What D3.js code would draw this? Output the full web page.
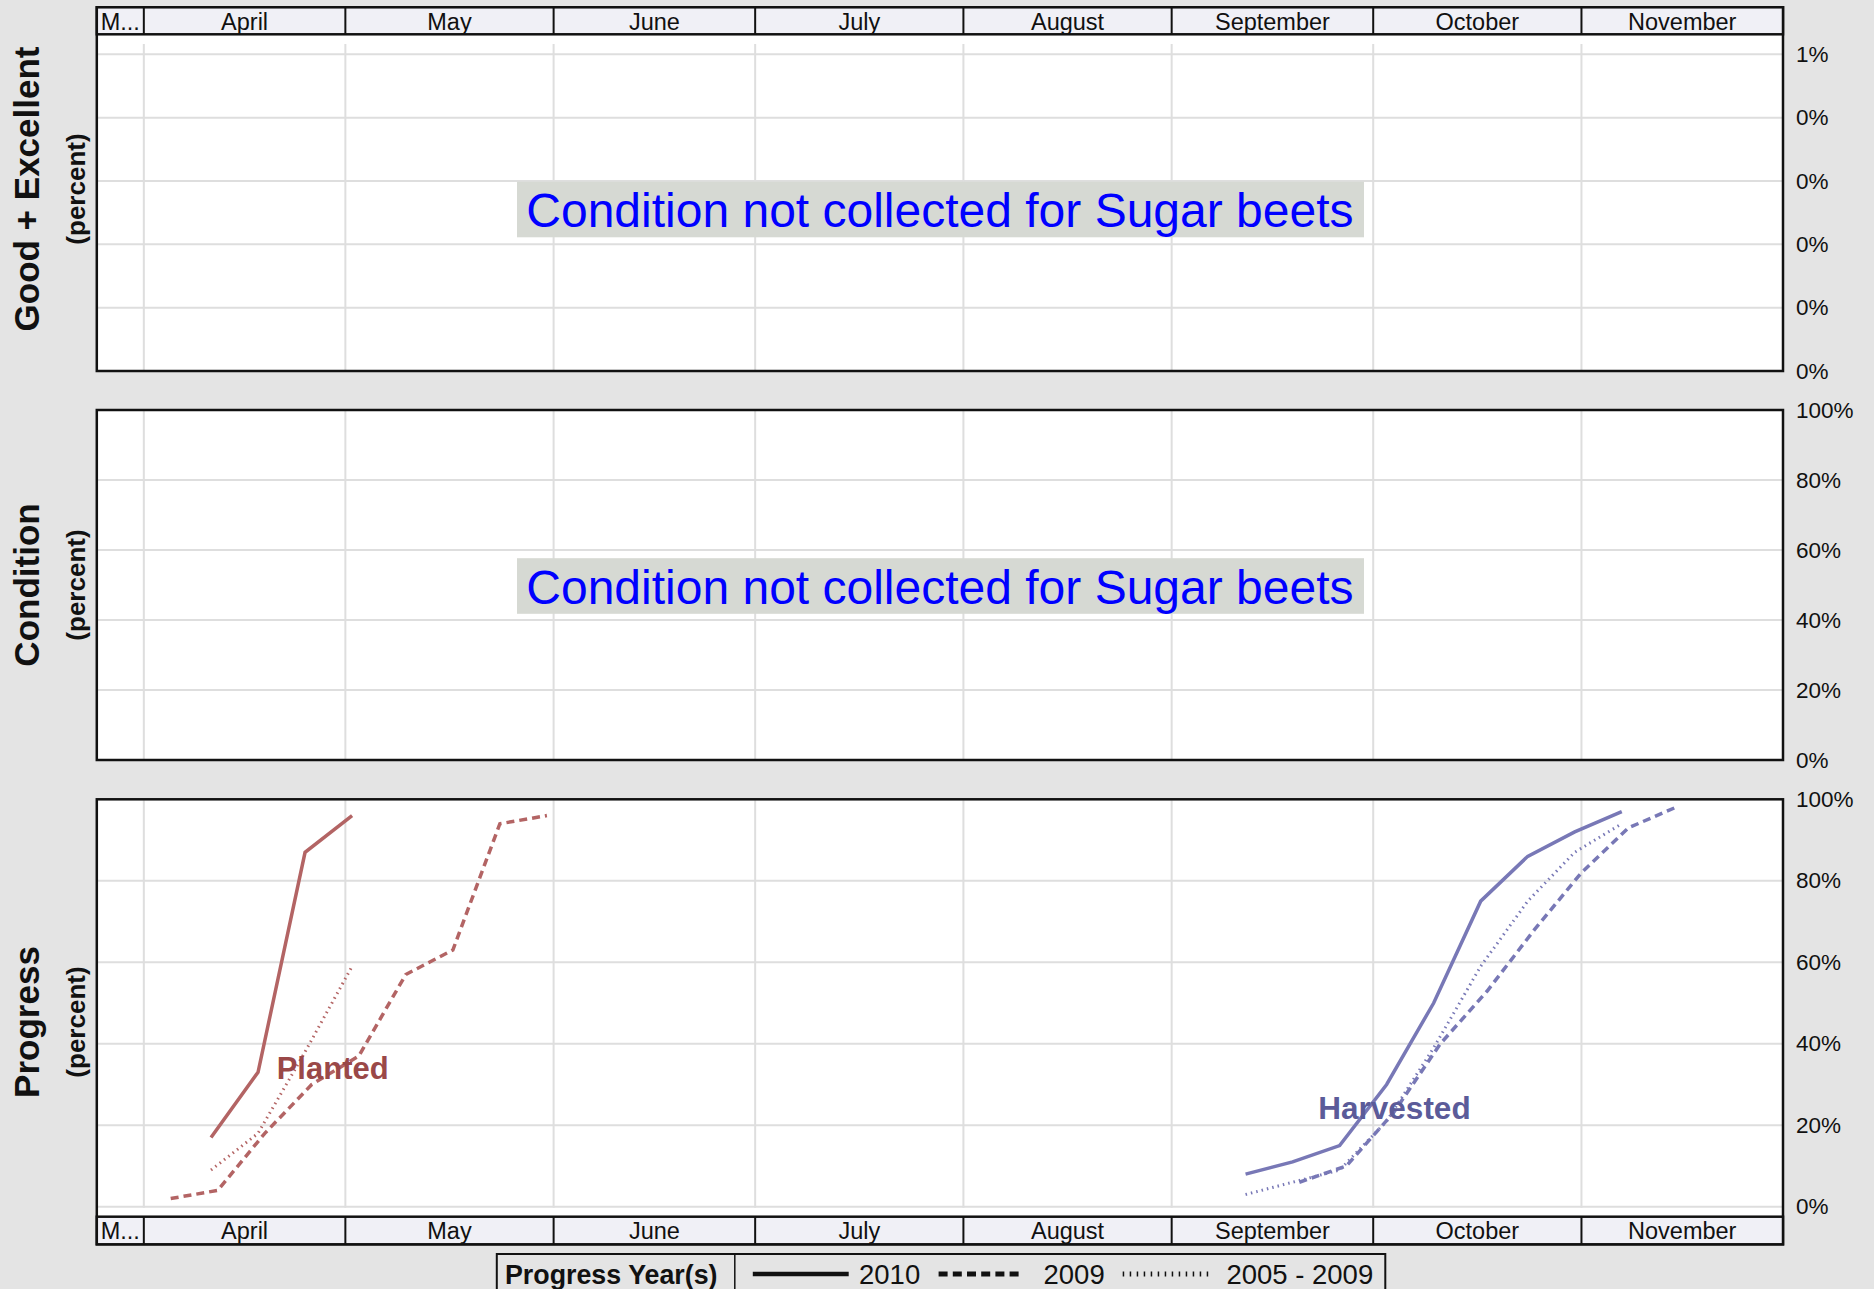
<!DOCTYPE html>
<html><head><meta charset="utf-8">
<script src="https://cdn.jsdelivr.net/npm/d3@7"></script>
<style>html,body{margin:0;padding:0;background:#e4e4e4;} svg{display:block;}</style>
</head><body>
<svg id="chart" width="1874" height="1289"></svg>
<script>
// ---------------- DATA ----------------
const monthLabels = ["M...", "April", "May", "June", "July", "August", "September", "October", "November"];
const monthStarts = ["2010-03-25", "2010-04-01", "2010-05-01", "2010-06-01", "2010-07-01", "2010-08-01", "2010-09-01", "2010-10-01", "2010-11-01"];
const axisEnd = "2010-12-01";

const goodExcTicks = [0, 0.2, 0.4, 0.6, 0.8, 1];
const goodExcTickLabels = ["0%", "0%", "0%", "0%", "0%", "1%"];
const pctTicks = [0, 20, 40, 60, 80, 100];
const pctTickLabels = ["0%", "20%", "40%", "60%", "80%", "100%"];

// Planted (weeks ending, plotted on the 2010 calendar)
const planted2010Dates = ["2010-04-11", "2010-04-18", "2010-04-25", "2010-05-02"];
const planted2010 = [17, 33, 87, 96];
const planted2009Dates = ["2010-04-05", "2010-04-12", "2010-04-19", "2010-04-26", "2010-05-03", "2010-05-10", "2010-05-17", "2010-05-24", "2010-05-31"];
const planted2009 = [2, 4, 18, 30, 37, 57, 63, 94, 96];
const plantedAvgDates = ["2010-04-11", "2010-04-18", "2010-04-25", "2010-05-02"];
const plantedAvg = [9, 18, 38, 59];

// Harvested
const harvest2010Dates = ["2010-09-12", "2010-09-19", "2010-09-26", "2010-10-03", "2010-10-10", "2010-10-17", "2010-10-24", "2010-10-31", "2010-11-07"];
const harvest2010 = [8, 11, 15, 30, 50, 75, 86, 92, 97];
const harvest2009Dates = ["2010-09-20", "2010-09-27", "2010-10-04", "2010-10-11", "2010-10-18", "2010-10-25", "2010-11-01", "2010-11-08", "2010-11-15"];
const harvest2009 = [6, 10, 23, 40, 53, 68, 82, 93, 98];
const harvestAvgDates = ["2010-09-12", "2010-09-19", "2010-09-26", "2010-10-03", "2010-10-10", "2010-10-17", "2010-10-24", "2010-10-31", "2010-11-07"];
const harvestAvg = [3, 6, 9, 21, 39, 59, 75, 87, 94];

const legendTitle = "Progress Year(s)";
const legendLabels = ["2010", "2009", "2005 - 2009"];
const noDataText = "Condition not collected for Sugar beets";

// ---------------- LAYOUT ----------------
const parse = d3.timeParse("%Y-%m-%d");
const X0 = 96.8, X1 = 1783;
const x = d3.scaleTime().domain([parse(monthStarts[0]), parse(axisEnd)]).range([X0, X1]);

const svg = d3.select("#chart");
const FONT = "'Liberation Sans', Arial, sans-serif";
const GRID = "#dedede";
const HEADER_FILL = "#f0f0f6";

svg.append("rect").attr("width", 1874).attr("height", 1289).attr("fill", "#e4e4e4");

const panels = [
  { title: "Good + Excellent", top: 34.3, bottom: 371, yRange: [371, 54.3], domain: [0, 1], ticks: goodExcTicks, tickLabels: goodExcTickLabels,
    vTop: 44, vBottom: 371, headerTop: 7.3, labelCenter: 189, noData: true, boxCenter: 209.5 },
  { title: "Condition", top: 410, bottom: 760, yRange: [760, 410], domain: [0, 100], ticks: pctTicks, tickLabels: pctTickLabels,
    vTop: 410, vBottom: 760, labelCenter: 585, noData: true, boxCenter: 586 },
  { title: "Progress", top: 799.3, bottom: 1216.7, yRange: [1206.7, 799.3], domain: [0, 100], ticks: pctTicks, tickLabels: pctTickLabels,
    vTop: 799.3, vBottom: 1207.7, footerBottom: 1244.3, labelCenter: 1022, noData: false }
];

const boundaries = monthStarts.slice(1).map(parse);

function drawMonthStrip(g, y0, y1) {
  g.append("rect").attr("x", X0).attr("y", y0).attr("width", X1 - X0).attr("height", y1 - y0)
    .attr("fill", HEADER_FILL).attr("stroke", "#111").attr("stroke-width", 2.5);
  g.selectAll("line.sep").data(boundaries).enter().append("line")
    .attr("x1", d => x(d)).attr("x2", d => x(d)).attr("y1", y0).attr("y2", y1)
    .attr("stroke", "#111").attr("stroke-width", 2);
  const starts = monthStarts.map(parse);
  const ends = starts.slice(1).concat([parse(axisEnd)]);
  g.selectAll("text.m").data(monthLabels).enter().append("text")
    .attr("x", (d, i) => (x(starts[i]) + x(ends[i])) / 2)
    .attr("y", y0 + 22.5)
    .attr("text-anchor", "middle")
    .attr("font-family", FONT).attr("font-size", 23.5).attr("fill", "#111")
    .text(d => d);
}

panels.forEach(p => {
  const g = svg.append("g");
  const y = d3.scaleLinear().domain(p.domain).range(p.yRange);
  p.y = y;
  // plot background
  g.append("rect").attr("x", X0).attr("y", p.top).attr("width", X1 - X0).attr("height", p.bottom - p.top).attr("fill", "#fff");
  // horizontal grid
  g.selectAll("line.h").data(p.ticks).enter().append("line")
    .attr("x1", X0).attr("x2", X1).attr("y1", d => y(d)).attr("y2", d => y(d))
    .attr("stroke", GRID).attr("stroke-width", 2);
  // vertical grid
  g.selectAll("line.v").data(boundaries).enter().append("line")
    .attr("x1", d => x(d)).attr("x2", d => x(d)).attr("y1", p.vTop).attr("y2", p.vBottom)
    .attr("stroke", GRID).attr("stroke-width", 2);

  // right axis labels
  const axis = d3.axisRight(y).tickValues(p.ticks).tickSize(0).tickPadding(13)
    .tickFormat((d, i) => p.tickLabels[i]);
  const ag = g.append("g").attr("transform", `translate(${X1},0)`).call(axis);
  ag.select(".domain").remove();
  ag.selectAll("text").attr("font-family", FONT).attr("font-size", 22.5).attr("fill", "#111");

  // titles
  g.append("text").attr("transform", `translate(39,${p.labelCenter}) rotate(-90)`)
    .attr("text-anchor", "middle").attr("font-family", FONT).attr("font-weight", "bold")
    .attr("font-size", 35).attr("fill", "#111").text(p.title);
  g.append("text").attr("transform", `translate(84.5,${p.labelCenter}) rotate(-90)`)
    .attr("text-anchor", "middle").attr("font-family", FONT).attr("font-weight", "bold")
    .attr("font-size", 26).attr("fill", "#111").text("(percent)");

  if (p.noData) {
    const cx = (X0 + X1) / 2;
    g.append("rect").attr("x", 517).attr("y", p.boxCenter - 27.8).attr("width", 847).attr("height", 55.6).attr("fill", "#d6d9d3");
    g.append("text").attr("x", cx).attr("y", p.boxCenter + 17.5).attr("text-anchor", "middle")
      .attr("font-family", FONT).attr("font-size", 48).attr("fill", "#0000ff").text(noDataText);
  }

  // frame
  const frameTop = p.headerTop !== undefined ? p.headerTop : p.top;
  const frameBottom = p.footerBottom !== undefined ? p.footerBottom : p.bottom;
  g.append("rect").attr("x", X0).attr("y", frameTop).attr("width", X1 - X0).attr("height", frameBottom - frameTop)
    .attr("fill", "none").attr("stroke", "#111").attr("stroke-width", 2.5);

  p.g = g;
});

// month strips
drawMonthStrip(svg.append("g"), panels[0].headerTop, panels[0].top);
drawMonthStrip(svg.append("g"), panels[2].bottom, panels[2].footerBottom);

// progress lines
const p3 = panels[2];
const line = d3.line().x(d => x(d.date)).y(d => p3.y(d.v));
function series(dates, vals) { return dates.map((d, i) => ({ date: parse(d), v: vals[i] })); }

const PLANT = "#b36464", PLANT_LBL = "#9a4848";
const HARV = "#7878b6", HARV_LBL = "#5b5b99";
const styles = {
  solid: { w: 3.5, dash: null },
  dashed: { w: 3.5, dash: "8,5" },
  dotted: { w: 3, dash: "1.5,4" }
};
const lg = svg.append("g");
function drawLine(data, color, st) {
  lg.append("path").datum(data).attr("d", line).attr("fill", "none").attr("stroke", color)
    .attr("stroke-width", st.w).attr("stroke-dasharray", st.dash);
}
drawLine(series(planted2010Dates, planted2010), PLANT, styles.solid);
drawLine(series(planted2009Dates, planted2009), PLANT, styles.dashed);
drawLine(series(plantedAvgDates, plantedAvg), PLANT, styles.dotted);
drawLine(series(harvest2010Dates, harvest2010), HARV, styles.solid);
drawLine(series(harvest2009Dates, harvest2009), HARV, styles.dashed);
drawLine(series(harvestAvgDates, harvestAvg), HARV, styles.dotted);

lg.append("text").attr("x", 276.7).attr("y", 1078.5).attr("font-family", FONT).attr("font-weight", "bold")
  .attr("font-size", 31).attr("fill", PLANT_LBL).text("Planted");
lg.append("text").attr("x", 1318.3).attr("y", 1119).attr("font-family", FONT).attr("font-weight", "bold")
  .attr("font-size", 31.5).attr("fill", HARV_LBL).text("Harvested");

// legend
const leg = svg.append("g");
leg.append("rect").attr("x", 496.8).attr("y", 1254).attr("width", 888.5).attr("height", 60)
  .attr("fill", "#e4e4e4").attr("stroke", "#111").attr("stroke-width", 2);
leg.append("line").attr("x1", 734.8).attr("x2", 734.8).attr("y1", 1254).attr("y2", 1300).attr("stroke", "#111").attr("stroke-width", 1.5);
leg.append("text").attr("x", 505).attr("y", 1284).attr("font-family", FONT).attr("font-weight", "bold")
  .attr("font-size", 26.8).attr("fill", "#111").text(legendTitle);
const legItems = [
  { x1: 752.8, x2: 848.7, tx: 859, w: 4.5, dash: null },
  { x1: 938.6, x2: 1022.5, tx: 1043.5, w: 5, dash: "9,5.2" },
  { x1: 1122.7, x2: 1212.6, tx: 1226.4, w: 5, dash: "1.5,5.5" }
];
legItems.forEach((it, i) => {
  leg.append("line").attr("x1", it.x1).attr("x2", it.x2).attr("y1", 1274).attr("y2", 1274)
    .attr("stroke", "#111").attr("stroke-width", it.w).attr("stroke-dasharray", it.dash);
  leg.append("text").attr("x", it.tx).attr("y", 1284).attr("font-family", FONT)
    .attr("font-size", 27.5).attr("fill", "#111").text(legendLabels[i]);
});
</script>
</body></html>
